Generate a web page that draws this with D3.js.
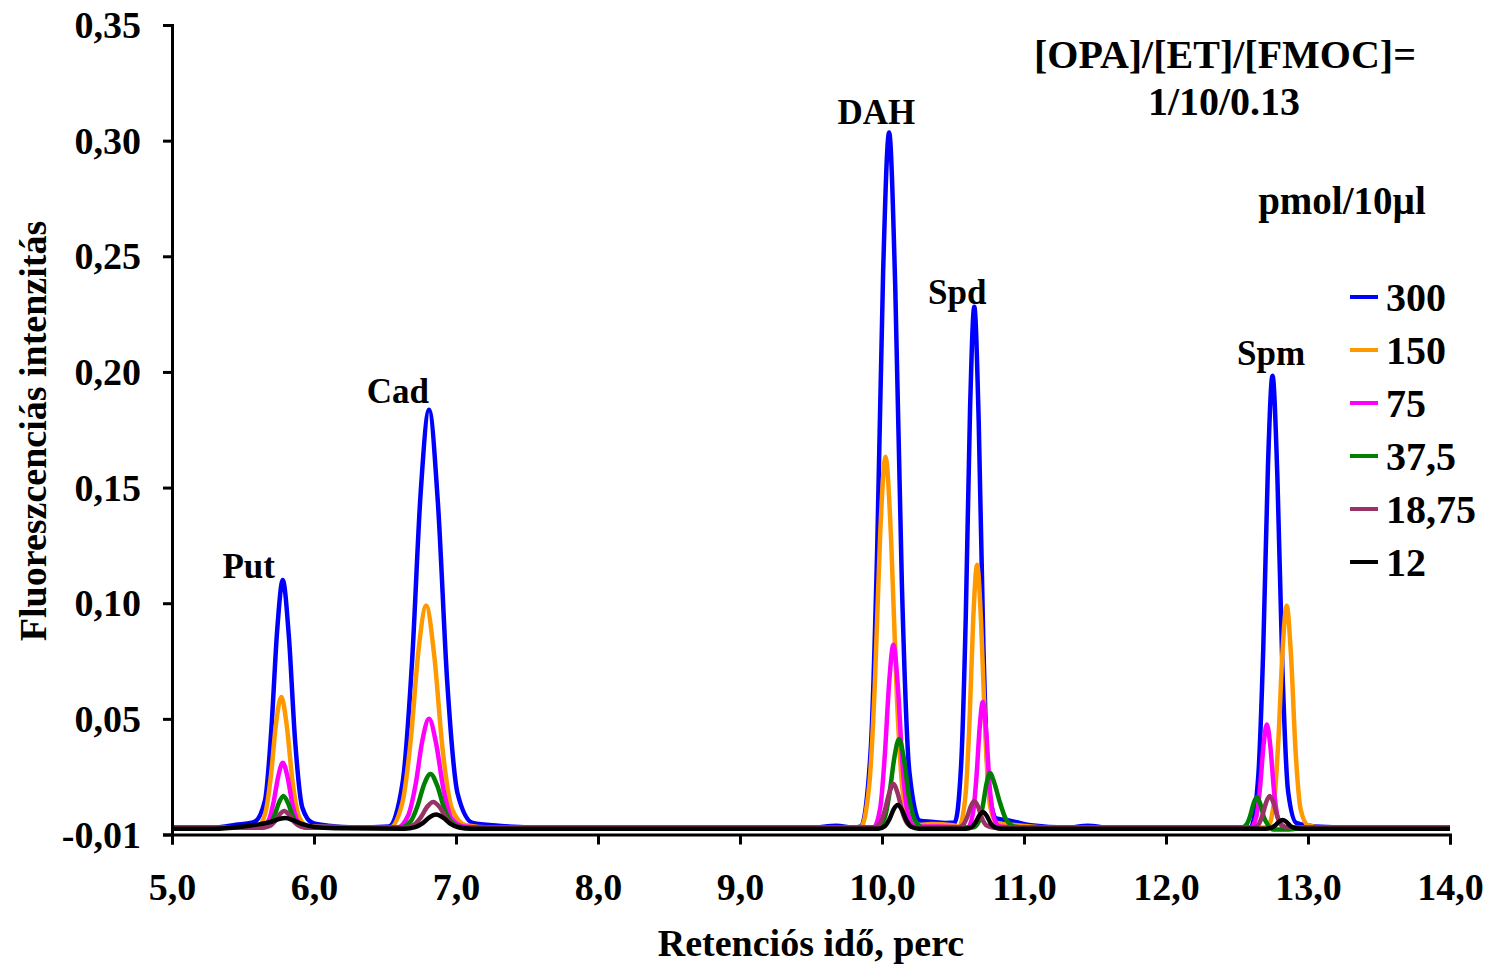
<!DOCTYPE html>
<html>
<head>
<meta charset="utf-8">
<script src="https://cdn.jsdelivr.net/npm/d3@7"></script>
<style>
  body { margin: 0; background: #fff; }
  svg { display: block; }
  text { font-family: "Liberation Serif", "Times New Roman", serif; font-weight: bold; fill: #000; }
</style>
</head>
<body>
<svg></svg>
<script>
// retention time (min), intensity pairs
var s300 = [
  [5.0,0.003],[5.3,0.003],[5.45,0.0042],[5.58,0.0055],
  [5.655,0.0148],[5.70,0.0458],[5.741,0.0886],[5.78,0.110],[5.822,0.0865],[5.867,0.0405],[5.918,0.0116],[5.99,0.005],[6.1,0.0038],[6.3,0.003],
  [6.528,0.0035],[6.625,0.0229],[6.691,0.0753],[6.751,0.1476],[6.81,0.1837],[6.872,0.1439],[6.938,0.0662],[7.012,0.0175],[7.118,0.005],[7.3,0.0038],[7.6,0.003],
  [9.5,0.003],[9.68,0.0038],[9.8,0.003],
  [9.852,0.0035],[9.92,0.0361],[9.966,0.1232],[10.008,0.2434],[10.05,0.3035],[10.093,0.2374],[10.14,0.1082],[10.193,0.027],[10.267,0.006],[10.35,0.0055],[10.45,0.005],
  [10.512,0.0052],[10.557,0.0298],[10.59,0.0943],[10.62,0.1836],[10.65,0.2282],[10.681,0.1787],[10.714,0.0818],[10.751,0.021],[10.804,0.007],[10.9,0.006],[11.05,0.004],[11.3,0.003],[11.45,0.0038],[11.6,0.003],
  [12.596,0.003],[12.649,0.0245],[12.685,0.0806],[12.718,0.1593],[12.75,0.1984],[12.784,0.1554],[12.82,0.0714],[12.86,0.0186],[12.918,0.005],[13.05,0.0035],[13.3,0.003],[14.0,0.003]
];
var s150 = [
  [5.0,0.003],[5.598,0.003],[5.657,0.0092],[5.697,0.0256],[5.733,0.0482],[5.77,0.0595],[5.808,0.0471],[5.849,0.0228],[5.896,0.0075],[5.96,0.0035],
  [6.534,0.003],[6.622,0.0136],[6.682,0.0414],[6.736,0.0797],[6.79,0.0989],[6.846,0.0778],[6.906,0.0366],[6.974,0.0107],[7.07,0.004],[7.25,0.003],
  [9.849,0.003],[9.909,0.0206],[9.951,0.0671],[9.988,0.1312],[10.025,0.1633],[10.064,0.1279],[10.105,0.0591],[10.152,0.0158],[10.218,0.004],[10.35,0.0045],[10.5,0.004],
  [10.542,0.0035],[10.586,0.0157],[10.616,0.0484],[10.643,0.0939],[10.67,0.1166],[10.698,0.0916],[10.728,0.0428],[10.762,0.0121],[10.81,0.005],[10.95,0.004],[11.2,0.003],
  [12.712,0.003],[12.76,0.0136],[12.792,0.0414],[12.821,0.0797],[12.85,0.0989],[12.88,0.0778],[12.912,0.0366],[12.949,0.0107],[13.0,0.004],[13.1,0.003],[14.0,0.003]
];
var s75 = [
  [5.0,0.003],[5.628,0.003],[5.681,0.0061],[5.716,0.0142],[5.749,0.0254],[5.78,0.031],[5.814,0.0248],[5.849,0.0128],[5.89,0.0052],[5.948,0.003],
  [6.586,0.003],[6.663,0.0082],[6.716,0.0218],[6.763,0.0406],[6.81,0.05],[6.859,0.0397],[6.912,0.0195],[6.971,0.0068],[7.055,0.0035],[7.2,0.003],
  [9.94,0.003],[9.988,0.0117],[10.02,0.0346],[10.051,0.0662],[10.08,0.082],[10.111,0.0646],[10.144,0.0307],[10.182,0.0093],[10.234,0.0035],[10.4,0.0035],
  [10.604,0.003],[10.64,0.009],[10.665,0.0247],[10.688,0.0464],[10.71,0.0573],[10.733,0.0453],[10.758,0.021],[10.788,0.0073],[10.828,0.0035],[11.0,0.003],
  [12.598,0.003],[12.637,0.0079],[12.663,0.0208],[12.687,0.0387],[12.71,0.0476],[12.735,0.038],[12.761,0.0186],[12.791,0.0066],[12.833,0.003],[14.0,0.003]
];
var s37_5 = [
  [5.0,0.003],[5.64,0.003],[5.69,0.0045],[5.723,0.0085],[5.755,0.014],[5.785,0.0167],[5.816,0.0137],[5.851,0.0078],[5.89,0.0041],[5.945,0.003],
  [6.605,0.003],[6.68,0.0056],[6.729,0.0123],[6.775,0.0216],[6.82,0.0262],[6.868,0.0211],[6.918,0.0111],[6.976,0.0049],[7.058,0.003],
  [9.966,0.003],[10.019,0.0072],[10.054,0.0183],[10.088,0.0336],[10.12,0.0413],[10.154,0.0328],[10.19,0.0164],[10.232,0.0061],[10.29,0.003],
  [10.64,0.003],[10.682,0.0056],[10.71,0.0124],[10.736,0.0219],[10.76,0.0266],[10.79,0.0225],[10.825,0.015],[10.87,0.007],[10.93,0.0035],[11.0,0.003],
  [12.532,0.003],[12.569,0.0045],[12.594,0.0083],[12.618,0.0136],[12.64,0.0162],[12.664,0.0133],[12.689,0.0076],[12.719,0.004],[12.758,0.0022],[12.85,0.0022],[13.0,0.003],[14.0,0.003]
];
var s18_75 = [
  [5.0,0.003],[5.64,0.003],[5.692,0.0038],[5.727,0.0059],[5.759,0.0088],[5.79,0.0102],[5.824,0.0086],[5.859,0.0055],[5.9,0.0036],[5.956,0.003],
  [6.632,0.003],[6.704,0.0042],[6.752,0.0074],[6.796,0.0119],[6.84,0.0141],[6.886,0.0117],[6.934,0.0069],[6.99,0.0039],[7.068,0.003],
  [9.94,0.003],[9.988,0.0051],[10.02,0.0105],[10.051,0.018],[10.08,0.0218],[10.111,0.0177],[10.144,0.0096],[10.182,0.0045],[10.234,0.003],
  [10.532,0.003],[10.573,0.0043],[10.6,0.0076],[10.626,0.0122],[10.65,0.0145],[10.677,0.012],[10.704,0.007],[10.736,0.0039],[10.78,0.003],
  [12.612,0.003],[12.653,0.0045],[12.68,0.0085],[12.706,0.014],[12.73,0.0167],[12.757,0.0137],[12.784,0.0078],[12.816,0.0041],[12.86,0.003],[14.0,0.003]
];
var s12 = [
  [5.0,0.0025],[5.3,0.0025],[5.5,0.0035],[5.62,0.0045],[5.7,0.0055],[5.76,0.0068],[5.8,0.0071],[5.85,0.0062],[5.92,0.0045],[6.0,0.0033],[6.15,0.0027],
  [6.636,0.0025],[6.713,0.0032],[6.766,0.0049],[6.813,0.0074],[6.86,0.0086],[6.909,0.0073],[6.962,0.0046],[7.021,0.003],[7.105,0.0025],
  [9.975,0.0025],[10.021,0.0037],[10.053,0.0067],[10.082,0.0109],[10.11,0.0128],[10.14,0.0107],[10.171,0.0062],[10.207,0.0033],[10.258,0.0025],
  [10.592,0.0025],[10.633,0.0033],[10.66,0.0054],[10.686,0.0083],[10.71,0.0097],[10.737,0.0081],[10.764,0.005],[10.796,0.0031],[10.84,0.0025],
  [12.702,0.0025],[12.743,0.0029],[12.77,0.004],[12.796,0.0055],[12.82,0.0063],[12.847,0.0055],[12.874,0.0038],[12.906,0.0028],[12.95,0.0025],[14.0,0.0025]
];

var seriesNames = ["300", "150", "75", "37,5", "18,75", "12"];
var seriesData = [s300, s150, s75, s37_5, s18_75, s12];
var colors = ["#0000ff", "#ff9900", "#ff00ff", "#008000", "#993366", "#000000"];

var xTicks = [5, 6, 7, 8, 9, 10, 11, 12, 13, 14];
var yTicks = [0, 0.05, 0.10, 0.15, 0.20, 0.25, 0.30, 0.35];
var yTickLabels = ["-0,01", "0,05", "0,10", "0,15", "0,20", "0,25", "0,30", "0,35"];

var peakNames = ["Put", "Cad", "DAH", "Spd", "Spm"];
var peakLabelPos = [[5.54, 0.111], [6.59, 0.1867], [9.96, 0.307], [10.53, 0.2295], [12.74, 0.203]];

let width = 1490;
let height = 967;
let margin = { left: 172, right: 40, top: 25, bottom: 132.5 };

let svg = d3.select("svg")
  .attr("width", width)
  .attr("height", height);

let x = d3.scaleLinear().domain([5, 14]).range([margin.left, width - margin.right]);
let y = d3.scaleLinear().domain([0, 0.35]).range([height - margin.bottom, margin.top]);

// traces
let line = d3.line()
  .x(d => x(d[0]))
  .y(d => y(d[1]))
  .curve(d3.curveMonotoneX);

svg.append("g")
  .attr("id", "traces")
  .selectAll("path")
  .data(seriesData)
  .enter().append("path")
  .attr("d", line)
  .attr("fill", "none")
  .attr("stroke", (d, i) => colors[i])
  .attr("stroke-width", 4.5)
  .attr("stroke-linejoin", "round");

// axes
let yAxis = svg.append("g")
  .attr("transform", `translate(${margin.left},0)`)
  .call(d3.axisLeft(y).tickValues(yTicks).tickFormat((d, i) => yTickLabels[i]).tickSize(9).tickPadding(22));

let xAxis = svg.append("g")
  .attr("transform", `translate(0,${y(0)})`)
  .call(d3.axisBottom(x).tickValues(xTicks).tickFormat(d => d.toFixed(1).replace(".", ",")).tickSize(10).tickPadding(29));

[xAxis, yAxis].forEach(g => {
  g.select(".domain").attr("stroke", "#000").attr("stroke-width", 3);
  g.selectAll(".tick line").attr("stroke", "#000").attr("stroke-width", 3);
  g.selectAll(".tick text")
    .style("font-family", '"Liberation Serif", "Times New Roman", serif')
    .style("font-weight", "bold")
    .style("font-size", "38px")
    .attr("fill", "#000");
});
yAxis.selectAll(".tick text").attr("dy", "0.33em");

// axis titles
svg.append("text")
  .attr("x", 811)
  .attr("y", 956)
  .attr("text-anchor", "middle")
  .style("font-size", "38px")
  .text("Retenciós idő, perc");

svg.append("text")
  .attr("transform", "translate(46,431) rotate(-90)")
  .attr("text-anchor", "middle")
  .style("font-size", "38px")
  .text("Fluoreszcenciás intenzitás");

// peak names
svg.append("g")
  .selectAll("text")
  .data(peakNames)
  .enter().append("text")
  .attr("x", (d, i) => x(peakLabelPos[i][0]))
  .attr("y", (d, i) => y(peakLabelPos[i][1]))
  .attr("text-anchor", "middle")
  .style("font-size", "35px")
  .text(d => d);

// condition text
svg.append("text").attr("x", 1225).attr("y", 68).attr("text-anchor", "middle")
  .style("font-size", "40px").text("[OPA]/[ET]/[FMOC]=");
svg.append("text").attr("x", 1224).attr("y", 115).attr("text-anchor", "middle")
  .style("font-size", "40px").text("1/10/0.13");
svg.append("text").attr("x", 1342).attr("y", 214).attr("text-anchor", "middle")
  .style("font-size", "39px").text("pmol/10µl");

// legend
let legend = svg.append("g")
  .attr("id", "legend")
  .selectAll("g")
  .data(seriesNames)
  .enter().append("g")
  .attr("transform", (d, i) => `translate(1350,${297 + i * 53})`);

legend.append("line")
  .attr("x1", 0).attr("x2", 28)
  .attr("y1", 0).attr("y2", 0)
  .attr("stroke", (d, i) => colors[i])
  .attr("stroke-width", 4);

legend.append("text")
  .attr("x", 36)
  .attr("y", 14)
  .style("font-size", "40px")
  .text(d => d);
</script>
</body>
</html>
